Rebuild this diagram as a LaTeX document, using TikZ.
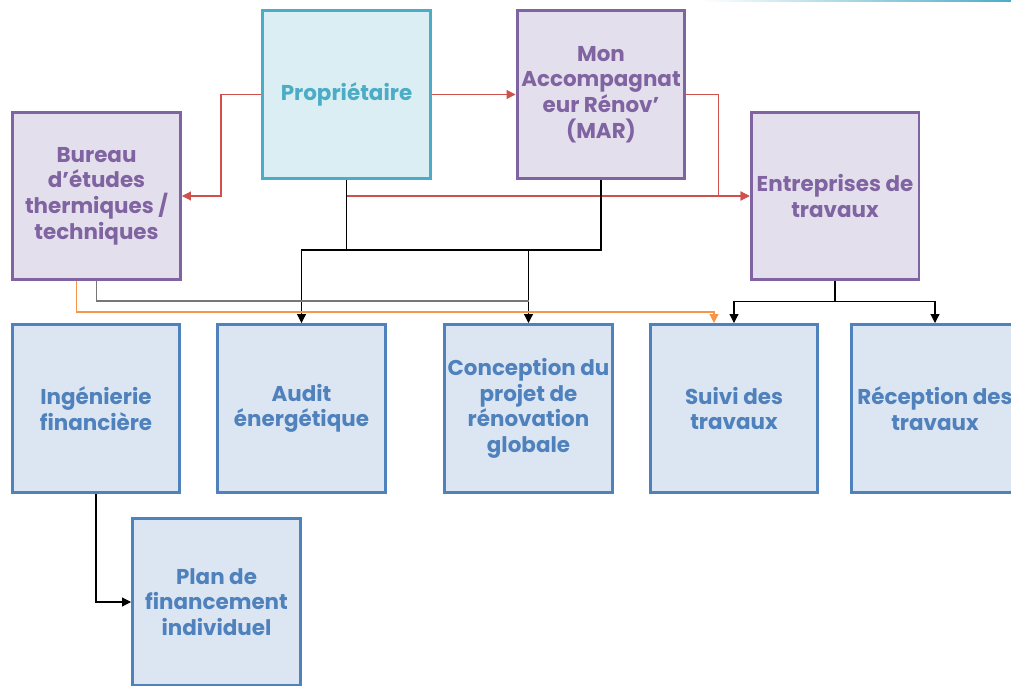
\documentclass[tikz,border=0pt]{standalone}
\usepackage{fontspec}
\setmainfont{Poppins}
\usetikzlibrary{arrows.meta, calc}
\definecolor{tealbd}{HTML}{4BACC6}
\definecolor{tealfill}{HTML}{DAEEF3}
\definecolor{purpbd}{HTML}{8064A2}
\definecolor{purpfill}{HTML}{E4DFEC}
\definecolor{bluebd}{HTML}{4F81BD}
\definecolor{bluefill}{HTML}{DCE6F2}
\definecolor{redln}{HTML}{D0504D}
\definecolor{orangeln}{HTML}{F79646}
\definecolor{grayln}{HTML}{777777}
\tikzstyle{box} = [rectangle, minimum width=3.36cm, minimum height=3.36cm, inner xsep=0pt, align=center, line width=1.7pt, font=\bfseries\fontsize{12.2}{14.6}\selectfont]
\tikzstyle{owner} = [box, draw=tealbd, fill=tealfill, text=tealbd]
\tikzstyle{actor} = [box, draw=purpbd, fill=purpfill, text=purpbd]
\tikzstyle{task} = [box, draw=bluebd, fill=bluefill, text=bluebd]
\tikzstyle{arrow} = [line width=0.6pt,->,>={Triangle[length=5pt,width=5pt]}]
\tikzstyle{redarrow} = [arrow, redln]
\tikzstyle{blkline} = [line width=0.6pt, black]
\begin{document}
\begin{tikzpicture}[x=0.02cm,y=-0.02cm]
\useasboundingbox (0,0) rectangle (1011,686);
\clip (0,0) rectangle (1011,686);
\shade[left color=white, right color=tealbd] (700,0) rectangle (1011,1.5);

% top row
\node[owner] (prop) at (346.5,94.5) {Propriétaire};
\node[actor] (mar) at (601,94.5) {Mon\\Accompagnat\\eur Rénov’\\(MAR)};
\node[actor] (bet) at (96.5,196) {Bureau\\d’études\\thermiques /\\techniques};
\node[actor] (entr) at (835,196) {Entreprises de\\travaux};

% missions
\node[task] (ingfin) at (96,408.5) {Ingénierie\\financière};
\node[task] (audit) at (301.5,408.5) {Audit\\énergétique};
\node[task] (concep) at (528.5,408.5) {Conception du\\projet de\\rénovation\\globale};
\node[task] (suivi) at (734,408.5) {Suivi des\\travaux};
\node[task] (recep) at (935,408.5) {Réception des\\travaux};
\node[task] (plan) at (216.5,602) {Plan de\\financement\\individuel};

% red links
\draw[redarrow] (prop.west) -- ++(-40,0) |- (bet.east);
\draw[redarrow] (prop.east) -- (mar.west);
\draw[redarrow] (mar.east) -- ++(32,0) |- (entr.west);
\draw[redarrow] (prop.south) |- (entr.west);

% black links
\coordinate (busA) at (346.5,250);
\draw[blkline] (prop.south) -- (busA) -| (mar.south);
\draw[arrow] (busA) -| (audit.north);
\draw[arrow] (concep.north |- busA) -- (concep.north);
\draw[line width=0.6pt, grayln] (bet.south) |- ($(concep.north)+(0,-22)$);
\draw[arrow, orangeln] ($(bet.south)+(-20,0)$) |- ($(suivi.north)+(-20,-11)$) -- ($(suivi.north)+(-20,0)$);
\coordinate (busC) at ($(entr.south)+(0,20)$);
\draw[blkline] (entr.south) -- (busC);
\draw[arrow] (busC) -| (suivi.north);
\draw[arrow] (busC) -| (recep.north);
\draw[arrow] (ingfin.south) |- (plan.west);
\end{tikzpicture}
\end{document}
